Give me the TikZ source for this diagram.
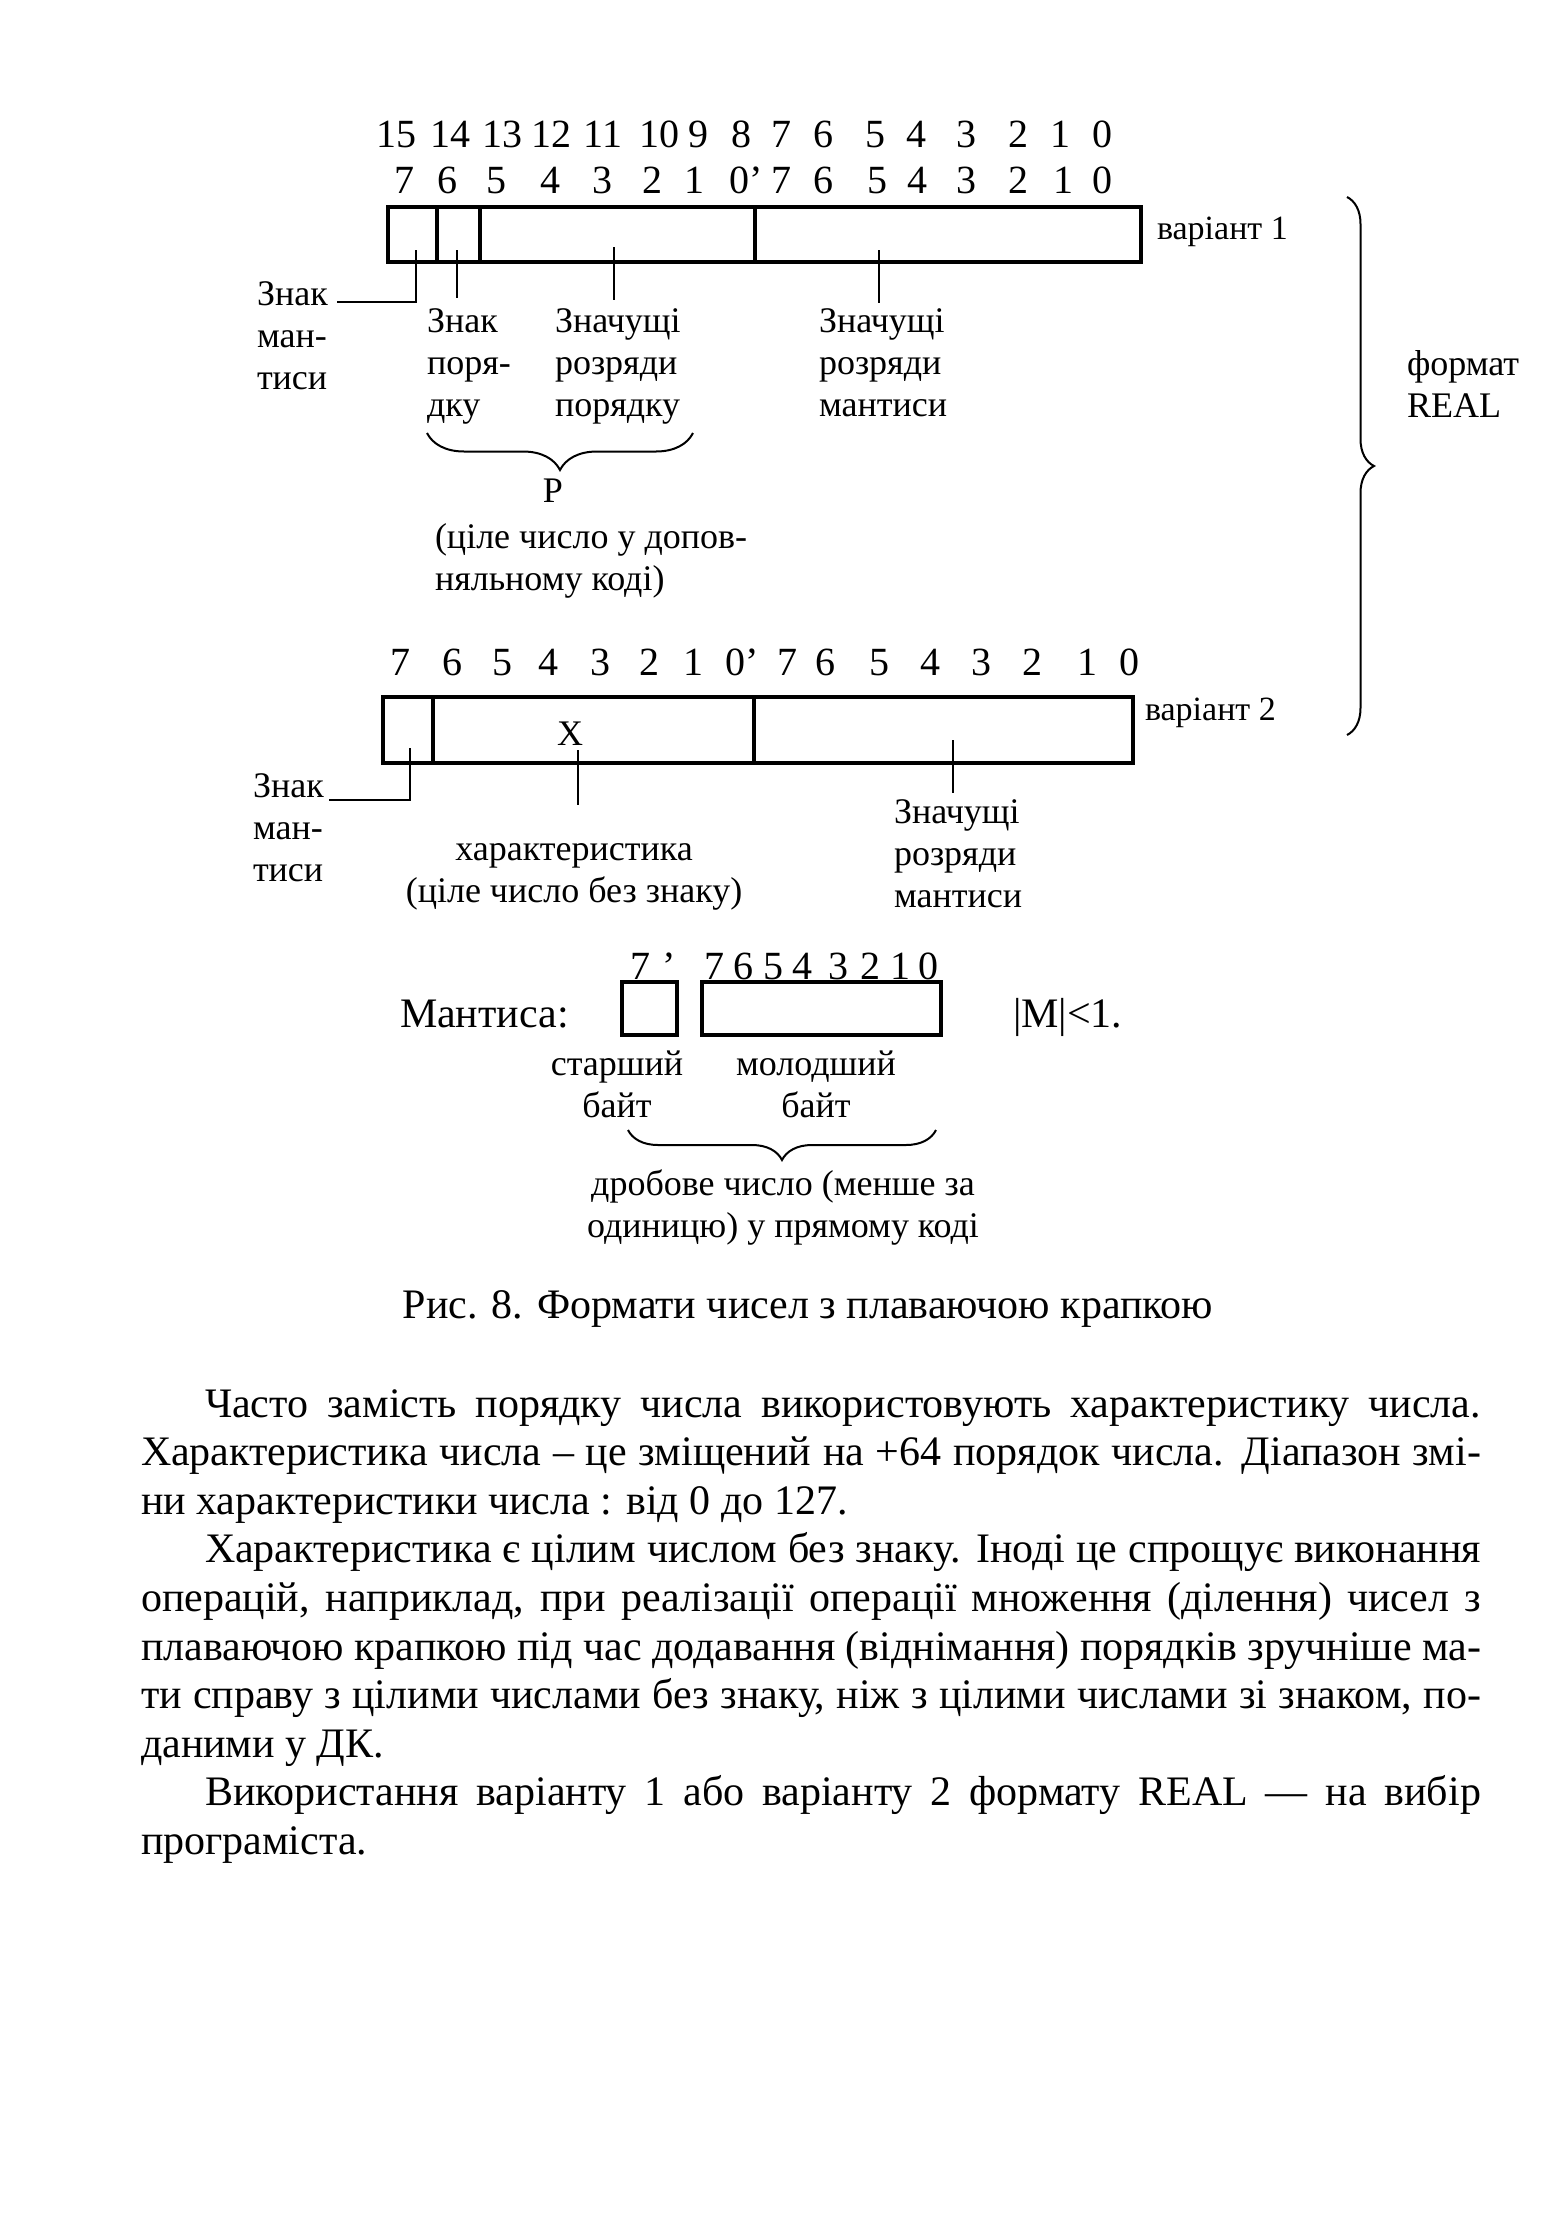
\documentclass[tikz,border=0pt]{standalone}
\usepackage{fontspec}
\setmainfont{Liberation Serif}
\usetikzlibrary{decorations.pathreplacing,fit}
\begin{document}
\begin{tikzpicture}[x=0.25pt,y=-0.25pt,
  every node/.style={inner sep=0pt, outer sep=0pt},
  % multi-line labels: the base anchor sits on the last line
  lbl/.style={font=\fontsize{9}{10.5}\selectfont, align=left, anchor=base west},
  clbl/.style={font=\fontsize{9}{10.5}\selectfont, align=center, anchor=base},
  big/.style={font=\fontsize{10.5}{12.15}\selectfont},
  bit/.style={font=\fontsize{10}{12}\selectfont, anchor=base},
  var/.style={font=\fontsize{8.5}{10}\selectfont, anchor=base west},
  field/.style={draw, line width=0.8pt, inner sep=0pt, outer sep=0pt},
  lead/.style={line width=0.5pt},
  brc/.style={decorate, decoration={brace, amplitude=#1}, line width=0.5pt},
  brcm/.style={decorate, decoration={brace, mirror, amplitude=#1}, line width=0.5pt},
]
\path[fill=white] (0,0) rectangle (1559,2216);

% ---------- variant 1 ----------
\foreach \x/\t [count=\i] in {396/15,450/14,502/13,551/12,603/11,659/10,698/9,741/8,781/7,823/6,875/5,916/4,966/3,1018/2,1060/1,1102/0}
  \node[bit] (ra\i) at (\x,147) {\t};
\foreach \x/\t [count=\i] in {404/7,447/6,496/5,550/4,602/3,652/2,694/1,781/7,823/6,877/5,917/4,966/3,1018/2,1063/1,1102/0}
  \node[bit] (rb\i) at (\x,193) {\t};
\node[bit, anchor=base west] (rb0) at (729,193) {0’};

\node[field, fit={(388,207)(437,262)}] (v1s) {};
\node[field, fit={(437,207)(480,262)}] (v1ps) {};
\node[field, fit={(480,207)(755,262)}] (v1p) {};
\node[field, fit={(755,207)(1141,262)}] (v1m) {};
\node[var] (v1lab) at (1157,239) {варіант 1};

\node[lbl] (v1sl) at (257,389) {Знак\\ман-\\тиси};
\node[lbl] (v1psl) at (427,416) {Знак\\поря-\\дку};
\node[lbl] (v1pl) at (555,416) {Значущі\\розряди\\порядку};
\node[lbl] (v1ml) at (819,416) {Значущі\\розряди\\мантиси};

\coordinate (a1) at (416,250); \coordinate (a1k) at (416,302); \coordinate (a1e) at (337,302);
\coordinate (b1) at (457,250); \coordinate (b1e) at (457,298);
\coordinate (c1) at (614,247); \coordinate (c1e) at (614,300);
\coordinate (d1) at (879,250); \coordinate (d1e) at (879,303);
\draw[lead] (a1) -- (a1k) -- (a1e);
\draw[lead] (b1) -- (b1e);
\draw[lead] (c1) -- (c1e);
\draw[lead] (d1) -- (d1e);

\coordinate (pb1) at (427,433); \coordinate (pb2) at (693,433);
\draw[brcm=9.25pt] (pb1) -- (pb2);
\node[clbl] (pl) at (553,502) {Р};
\node[lbl] (pn) at (435,590) {(ціле число у допов-\\няльному коді)};

% ---------- REAL brace ----------
\coordinate (rt) at (1347,197); \coordinate (rbm) at (1347,735);
\draw[brc=6.75pt] (rt) -- (rbm);
\node[lbl] (fmt) at (1407,417) {формат\\REAL};

% ---------- variant 2 ----------
\foreach \x/\t [count=\i] in {400/7,452/6,502/5,548/4,600/3,649/2,693/1,787/7,825/6,879/5,930/4,981/3,1032/2,1087/1,1129/0}
  \node[bit] (rc\i) at (\x,675) {\t};
\node[bit, anchor=base west] (rc0) at (725,675) {0’};

\node[field, fit={(383,697)(433,763)}] (v2s) {};
\node[field, fit={(433,697)(754,763)}] (v2x) {};
\node[field, fit={(754,697)(1133,763)}] (v2m) {};
\node[var] (v2lab) at (1145,720) {варіант 2};
\node[clbl] (xl) at (570,745) {X};

\node[lbl] (v2sl) at (253,881) {Знак\\ман-\\тиси};
\node[clbl] (v2xl) at (574,902) {характеристика\\(ціле число без знаку)};
\node[lbl] (v2ml) at (894,907) {Значущі\\розряди\\мантиси};

\coordinate (a2) at (410,748); \coordinate (a2k) at (410,800); \coordinate (a2e) at (329,800);
\coordinate (x2) at (578,750); \coordinate (x2e) at (578,805);
\coordinate (m2) at (953,740); \coordinate (m2e) at (953,793);
\draw[lead] (a2) -- (a2k) -- (a2e);
\draw[lead] (x2) -- (x2e);
\draw[lead] (m2) -- (m2e);

% ---------- mantissa ----------
\node[big, anchor=base west] (mant) at (400,1027) {Мантиса:};
\node[field, fit={(622,982)(677,1035)}] (mhi) {};
\node[field, fit={(702,982)(941,1035)}] (mlo) {};
\node[bit, anchor=base west] (mh7) at (630,979) {7\hspace{3pt}’};
\foreach \x/\t [count=\i] in {714/7,743/6,773/5,802/4,838/3,870/2,900/1,928/0}
  \node[bit] (ml\i) at (\x,979) {\t};
\node[big, anchor=base west] (mlt) at (1013,1027) {|M|<1.};
\node[clbl] (hb) at (617,1117) {старший\\байт};
\node[clbl] (lb) at (816,1117) {молодший\\байт};
\coordinate (fb1) at (628,1130); \coordinate (fb2) at (936,1130);
\draw[brcm=7.5pt] (fb1) -- (fb2);
\node[clbl] (frac) at (783,1237) {дробове число (менше за\\одиницю) у прямому коді};

% ---------- caption and text ----------
\node[big, anchor=base] (cap) at (808,1318) {Рис. 8. Формати чисел з плаваючою крапкою};

\node[big, anchor=base west, text width=335pt, align=justify] (body) at (141,1417)
{\hyphenpenalty=10000 \parindent=0pt
\hspace*{16pt}Часто замість порядку числа використовують характеристику числа.\linebreak
Характеристика числа – це зміщений на +64 порядок числа. Діапазон змі-\linebreak
ни характеристики числа : від 0 до 127.\par
\hspace*{16pt}Характеристика є цілим числом без знаку. Іноді це спрощує виконання\linebreak
операцій, наприклад, при реалізації операції множення (ділення) чисел з\linebreak
плаваючою крапкою під час додавання (віднімання) порядків зручніше ма-\linebreak
ти справу з цілими числами без знаку, ніж з цілими числами зі знаком, по-\linebreak
даними у ДК.\par
\hspace*{16pt}Використання варіанту 1 або варіанту 2 формату REAL — на вибір\linebreak
програміста.\par};
\end{tikzpicture}
\end{document}
